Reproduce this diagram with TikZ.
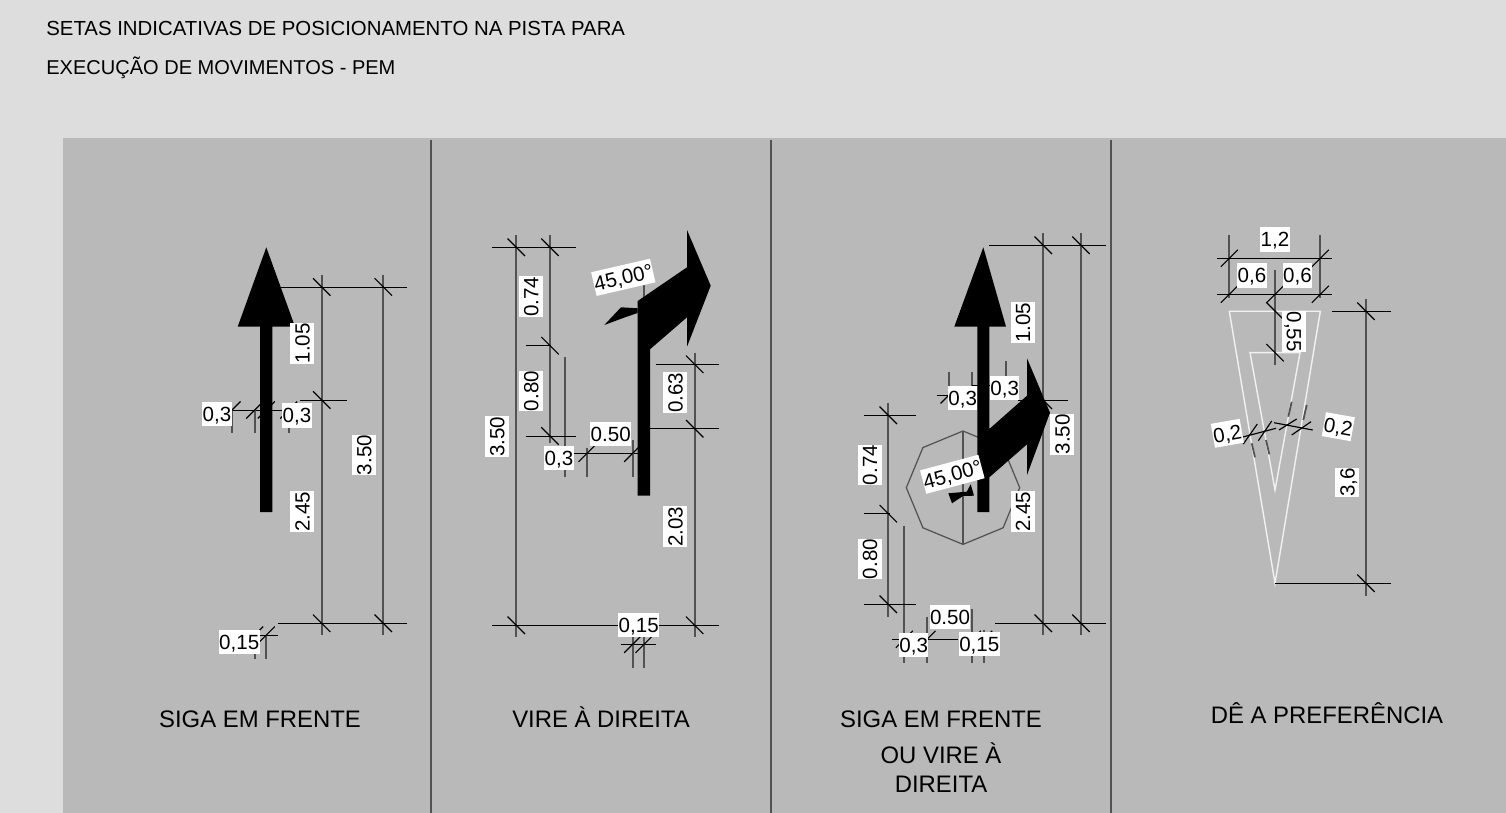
\documentclass[tikz,border=0pt]{standalone}
\usepackage{fontspec}
\setmainfont{Liberation Sans}
\usepackage{tikz}
\definecolor{mbg}{gray}{0.867}
\definecolor{mpanel}{gray}{0.725}
\definecolor{mdim}{gray}{0.32}
\tikzset{dimline/.style = {mdim, line width=1pt},
         extline/.style = {black, line width=0.65pt},
         dimlabel/.style = {fill=white, inner xsep=0.2pt, inner ysep=2.7pt, text height=8.4pt, text depth=0pt, font=\fontsize{11.7}{13}\selectfont},
         signlabel/.style = {inner sep=0pt, text height=9.74pt, text depth=0pt, font=\fontsize{13.6}{16}\selectfont},
         titlelabel/.style = {anchor=west, inner sep=0pt, font=\fontsize{11.6}{14}\selectfont},
         whiteline/.style = {white, opacity=0.8, line width=0.8pt}}
\newcommand{\backtick}[1]{\draw [extline] (#1) ++(-8.7, -8.7) -- ++(17.4, 17.4);}
\newcommand{\slashtick}[1]{\draw [extline] (#1) ++(-8.5, 8.5) -- ++(17, -17);}

\begin{document}
\begin{tikzpicture}[x=0.02cm, y=-0.02cm]
      \fill [mbg] (0, 0) rectangle (1506, 813);
      \fill [mpanel] (63, 138) rectangle (1506, 813);
      \useasboundingbox (0, 0) rectangle (1506, 813);

      \draw [mdim, line width=0.8pt] (431, 140) -- (431, 813);
      \draw [mdim, line width=0.8pt] (771, 140) -- (771, 813);
      \draw [mdim, line width=0.8pt] (1111, 140) -- (1111, 813);

      \node (title1) [titlelabel] at (46, 28.5) {SETAS INDICATIVAS DE POSICIONAMENTO NA PISTA PARA};
      \node (title2) [titlelabel, font=\fontsize{11.4}{14}\selectfont] at (46, 67.5) {EXECUÇÃO DE MOVIMENTOS - PEM};

      % siga em frente
      \draw [dimline] (321.7, 275) -- (321.7, 635);
      \draw [dimline] (383.3, 275) -- (383.3, 635);
      \draw [extline] (280.7, 287.4) -- (407, 287.4);
      \draw [extline] (300, 400.4) -- (346.7, 400.4);
      \draw [extline] (277.7, 623.4) -- (407, 623.4);
      \backtick{321.7, 287} \backtick{383.3, 287} \backtick{321.7, 400}
      \backtick{321.7, 623.3} \backtick{383.3, 623.3}

      \draw [extline] (232, 410.4) -- (290, 410.4);
      \draw [dimline] (232, 410) -- (232, 433);
      \draw [dimline] (254.7, 410) -- (254.7, 433);
      \draw [dimline] (288.7, 410) -- (288.7, 433);
      \slashtick{232, 410} \slashtick{254.7, 410} \slashtick{266.3, 410} \slashtick{288.7, 410}

      \draw [extline] (250, 635.4) -- (278.3, 635.4);
      \draw [dimline] (254.7, 635) -- (254.7, 659);
      \draw [dimline] (266.3, 635) -- (266.3, 659);
      \slashtick{254.7, 635} \slashtick{266.3, 635}

      \fill (266.3, 247.3) -- (295, 326.7) -- (272.3, 326.7) -- (272.3, 512) -- (260, 512) -- (260, 326.7) -- (237.7, 326.7) -- cycle;

      \node (front105) [dimlabel, rotate=90] at (302.3, 343.3) {1.05};
      \node (front245) [dimlabel, rotate=90] at (302.3, 511.7) {2.45};
      \node (front350) [dimlabel, rotate=90] at (364, 455) {3.50};
      \node (front03a) [dimlabel] at (217, 414) {0,3};
      \node (front03b) [dimlabel] at (297, 415.5) {0,3};
      \node (front015) [dimlabel] at (239.2, 642) {0,15};
      \node (frontname) [signlabel] at (260, 719) {SIGA EM FRENTE};

      % vire a direita
      \draw [dimline] (516.3, 235) -- (516.3, 636.7);
      \draw [dimline] (550, 235) -- (550, 443);
      \draw [dimline] (564.7, 356.7) -- (564.7, 477.3);
      \draw [dimline] (694.7, 352.7) -- (694.7, 636.7);
      \draw [dimline] (644, 285) -- (644, 301);
      \draw [extline] (492.3, 247.4) -- (575.7, 247.4);
      \draw [extline] (525.7, 345.4) -- (550.7, 345.4);
      \draw [extline] (525.7, 436.4) -- (575.7, 436.4);
      \draw [extline] (492.3, 625.4) -- (719.3, 625.4);
      \draw [extline] (655.7, 364.4) -- (719.3, 364.4);
      \draw [extline] (650, 428.4) -- (719.3, 428.4);
      \backtick{516.3, 247.3} \backtick{550, 247.3} \backtick{550, 345.7} \backtick{550, 436}
      \backtick{694.7, 364.3} \backtick{694.7, 428.7} \backtick{516.3, 625.3} \backtick{694.7, 625.3}

      \draw [extline] (560, 453.4) -- (637.7, 453.4);
      \draw [dimline] (587, 448) -- (587, 477.3);
      \draw [dimline] (632.7, 440) -- (632.7, 477.3);
      \slashtick{587, 453.3} \slashtick{632.7, 453.3}

      \draw [extline] (620.7, 644.4) -- (656, 644.4);
      \draw [dimline] (632.7, 636) -- (632.7, 668);
      \draw [dimline] (644, 636) -- (644, 668);
      \slashtick{632.7, 644.3} \slashtick{644, 644.3}

      \fill (637.7, 495.7) -- (637.7, 301) -- (687, 267.3) -- (687, 230) -- (710.7, 285.7) -- (687, 346.7) -- (687, 317.3) -- (650, 349.3) -- (650, 495.7) -- cycle;
      \fill (604.3, 325) -- (621, 307.3) -- (637.7, 308.3) -- (637.7, 313) -- (626.7, 316.7) -- cycle;

      \node (right074) [dimlabel, rotate=90] at (531, 296.7) {0.74};
      \node (right080) [dimlabel, rotate=90] at (531, 391) {0.80};
      \node (right350) [dimlabel, rotate=90] at (497, 436.7) {3.50};
      \node (right063) [dimlabel, rotate=90] at (675.3, 392.7) {0.63};
      \node (right203) [dimlabel, rotate=90] at (675.3, 526.7) {2.03};
      \node (right050) [dimlabel] at (610.7, 434) {0.50};
      \node (right03) [dimlabel] at (559, 458) {0,3};
      \node (right015) [dimlabel] at (638.7, 625) {0,15};
      \node (rightangle) [dimlabel, rotate=13] at (623.3, 277.3) {45,00°};
      \node (rightname) [signlabel] at (601, 719) {VIRE À DIREITA};

      % siga em frente ou vire a direita
      \draw [dimline] (1043.3, 233.3) -- (1043.3, 635);
      \draw [dimline] (1081, 233.3) -- (1081, 635);
      \draw [extline] (989, 245.4) -- (1105.7, 245.4);
      \draw [extline] (1017.7, 400.4) -- (1068, 400.4);
      \draw [extline] (995, 623.4) -- (1105.7, 623.4);
      \backtick{1043.3, 245.3} \backtick{1081, 245.3} \backtick{1043.3, 400.3}
      \backtick{1043.3, 623.3} \backtick{1081, 623.3}

      \draw [dimline] (888.3, 403.3) -- (888.3, 616.7);
      \draw [dimline] (904.3, 525.7) -- (904.3, 663.3);
      \draw [extline] (864.3, 415.4) -- (915.7, 415.4);
      \draw [extline] (864.3, 513.4) -- (890, 513.4);
      \draw [extline] (864.3, 604.4) -- (915.7, 604.4);
      \backtick{888.3, 415.3} \backtick{888.3, 513.7} \backtick{888.3, 604.3}

      \draw [dimline] (949, 371.7) -- (949, 398);
      \draw [dimline] (972, 371.7) -- (972, 395);
      \draw [dimline] (1006.3, 361) -- (1006.3, 385);
      \draw [extline] (937.3, 395.4) -- (972, 395.4);
      \draw [extline] (972, 385.4) -- (1006.3, 385.4);
      \slashtick{949, 395}

      \draw [extline] (891.7, 639.4) -- (958.3, 639.4);
      \draw [dimline] (927, 616.7) -- (927, 663.3);
      \draw [dimline] (972.3, 609) -- (972.3, 663.3);
      \draw [dimline] (983.7, 630) -- (983.7, 663.3);
      \slashtick{904.3, 639.3} \slashtick{927, 639.3} \slashtick{972.3, 639.3} \slashtick{983.7, 639.3}

      \draw [mdim, line width=0.7pt] (963, 431) -- (1003.1, 447.6) -- (1019.7, 487.7) -- (1003.1, 527.8) -- (963, 544.4) -- (922.9, 527.8) -- (906.3, 487.7) -- (922.9, 447.6) -- cycle;
      \draw [dimline] (963, 431) -- (963, 544.4);

      \fill (983.3, 247.3) -- (1006, 326.7) -- (989.3, 326.7) -- (989.3, 429) -- (1027, 395.7) -- (1027, 358.3) -- (1050, 412.7) -- (1027, 475) -- (1027, 444.3) -- (989.3, 477.3) -- (989.3, 512) -- (977.3, 512) -- (977.3, 326.7) -- (954.3, 326.7) -- cycle;
      \fill (948.3, 493.3) -- (966.7, 491.7) -- (970.7, 484.3) -- (974, 495.7) -- (963, 496) -- (952, 503.3) -- cycle;

      \node (both105) [dimlabel, rotate=90] at (1022.7, 322.7) {1.05};
      \node (both245) [dimlabel, rotate=90] at (1022.7, 511.7) {2.45};
      \node (both350) [dimlabel, rotate=90] at (1062.3, 434.3) {3.50};
      \node (both074) [dimlabel, rotate=90] at (869.7, 465) {0.74};
      \node (both080) [dimlabel, rotate=90] at (869.7, 559) {0.80};
      \node (both03a) [dimlabel] at (962.7, 398.3) {0,3};
      \node (both03b) [dimlabel] at (1004.7, 388) {0,3};
      \node (both050) [dimlabel] at (950, 617.2) {0.50};
      \node (both03c) [dimlabel] at (913.7, 645.3) {0,3};
      \node (both015) [dimlabel] at (979.3, 644.2) {0,15};
      \node (bothangle) [dimlabel, rotate=15] at (952.3, 474.3) {45,00°};
      \node (bothname1) [signlabel] at (941, 719) {SIGA EM FRENTE};
      \node (bothname2) [signlabel] at (941, 755) {OU VIRE À};
      \node (bothname3) [signlabel] at (941, 784) {DIREITA};

      % de a preferencia
      \draw [whiteline] (1229.3, 311.3) -- (1320.3, 311.3) -- (1275, 583.3) -- cycle;
      \draw [whiteline] (1250, 352.7) -- (1300, 352.7) -- (1275, 490) -- cycle;

      \draw [dimline] (1229.3, 235) -- (1229.3, 298);
      \draw [dimline] (1320.3, 235) -- (1320.3, 298);
      \draw [dimline] (1275, 270) -- (1275, 365);
      \draw [extline] (1217.3, 258.4) -- (1332.3, 258.4);
      \draw [extline] (1217.3, 294.4) -- (1332.3, 294.4);
      \slashtick{1229.3, 258.3} \slashtick{1320.3, 258.3}
      \slashtick{1229.3, 294.3} \slashtick{1275, 294.3} \slashtick{1320.3, 294.3}
      \backtick{1275, 311} \backtick{1275, 352.7}

      \draw [dimline] (1366, 299.3) -- (1366, 595.7);
      \draw [extline] (1332, 311.4) -- (1391, 311.4);
      \draw [extline] (1275, 583.4) -- (1391, 583.4);
      \backtick{1366, 311.3} \backtick{1366, 583.3}

      \draw [extline] (1241.7, 437.3) -- (1276, 428.3);
      \draw [extline] (1274, 422.7) -- (1312.7, 430);
      \draw [dimline] (1251.7, 443.3) -- (1255, 457.3);
      \draw [dimline] (1266, 440) -- (1269.3, 454.3);
      \draw [dimline] (1291.7, 401.7) -- (1288.3, 416.7);
      \draw [dimline] (1306.7, 405) -- (1303.3, 420);
      \draw [extline] (1243.3, 444) -- (1257.3, 424);
      \draw [extline] (1258.3, 440.7) -- (1271.7, 421);
      \draw [extline] (1279, 430) -- (1296.7, 419);
      \draw [extline] (1291.7, 435) -- (1311, 421.7);

      \node (give12) [dimlabel] at (1275, 239.5) {1,2};
      \node (give06a) [dimlabel] at (1252, 275.5) {0,6};
      \node (give06b) [dimlabel] at (1297.5, 275.5) {0,6};
      \node (give055) [dimlabel, rotate=-90] at (1294.3, 331.7) {0,55};
      \node (give36) [dimlabel, rotate=90] at (1347.3, 482.7) {3,6};
      \node (give02a) [dimlabel, rotate=10] at (1227.3, 433.3) {0,2};
      \node (give02b) [dimlabel, rotate=-10] at (1338.3, 426.7) {0,2};
      \node (givename) [signlabel] at (1327, 715) {DÊ A PREFERÊNCIA};
    \end{tikzpicture}
\end{document}
